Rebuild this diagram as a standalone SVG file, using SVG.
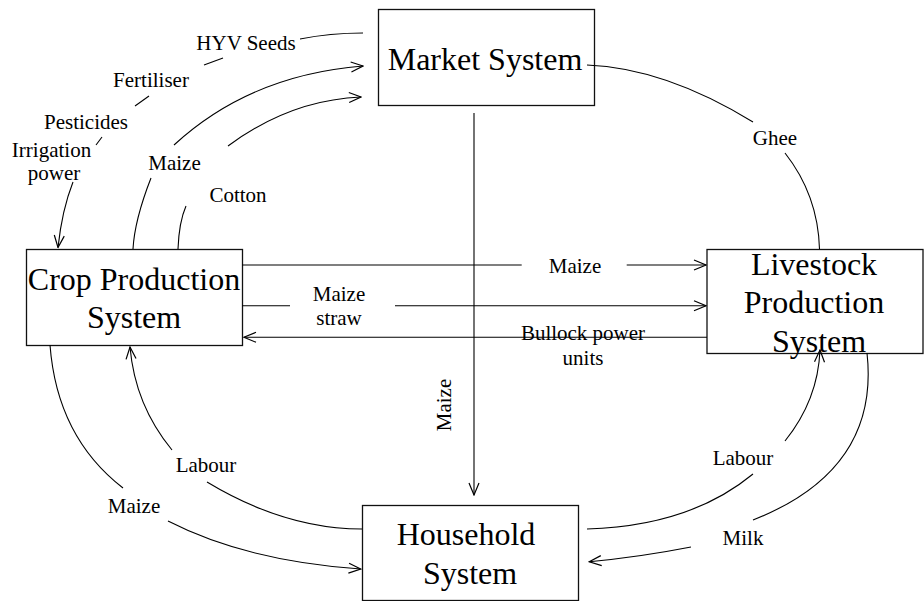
<svg xmlns="http://www.w3.org/2000/svg" width="924" height="601" viewBox="0 0 924 601">
<style>
.box{fill:#fff;stroke:#111;stroke-width:1.3}
.nt{font-family:"Liberation Serif","Times New Roman",serif;font-size:32px;fill:#000;text-anchor:middle}
.lt{font-family:"Liberation Serif","Times New Roman",serif;font-size:21px;fill:#000;text-anchor:middle}
.c{fill:none;stroke:#000;stroke-width:1.1}
.a{marker-end:url(#arr)}
</style>
<defs>
<marker id="arr" markerUnits="userSpaceOnUse" markerWidth="14" markerHeight="12" viewBox="-1 -1 14 12" refX="12" refY="5" orient="auto">
<path d="M0,0 L12,5 L0,10" fill="none" stroke="#000" stroke-width="1.2"/>
</marker>
</defs>
<rect width="924" height="601" fill="#fff"/>

<g id="market">
<rect class="box" x="378.5" y="9.5" width="216" height="96"/>
<text class="nt" x="485" y="70">Market System</text>
</g>
<g id="crop">
<rect class="box" x="26.5" y="249.5" width="216" height="96"/>
<text class="nt" x="134" y="290">Crop Production</text>
<text class="nt" x="134" y="328">System</text>
</g>
<g id="livestock">
<rect class="box" x="707" y="249.5" width="216" height="104"/>
</g>
<g id="household">
<rect class="box" x="362.5" y="505.5" width="216" height="95"/>
<text class="nt" x="466" y="545">Household</text>
<text class="nt" x="470" y="584">System</text>
</g>

<g id="connectors">
<!-- inputs from market to crop -->
<path class="c" d="M363,33 Q330,33 300,39"/>
<path class="c" d="M223,58 L204,65"/>
<path class="c" d="M149,96 L135,106"/>
<path class="c" d="M102,137 L96,145"/>
<path class="c a" d="M73,182 Q62,210 58,247.5"/>
<text class="lt" x="246" y="50">HYV Seeds</text>
<text class="lt" x="151" y="87">Fertiliser</text>
<text class="lt" x="86" y="129">Pesticides</text>
<text class="lt" x="51.5" y="157">Irrigation</text>
<text class="lt" x="54" y="180">power</text>
<!-- crop to market maize -->
<path class="c" d="M133,249 Q134.6,219.9 151,178"/>
<path class="c a" d="M174,145 Q250,75 363,66"/>
<text class="lt" x="174.5" y="170">Maize</text>
<!-- crop to market cotton -->
<path class="c" d="M178,249 Q179,222 186,206"/>
<path class="c a" d="M228,146 Q290,100 361,97"/>
<text class="lt" x="238" y="202">Cotton</text>
<!-- ghee -->
<path class="c" d="M587,65 Q665,68 753,122"/>
<path class="c" d="M785,153 Q818,195 819.5,249"/>
<text class="lt" x="775" y="145">Ghee</text>
<!-- crop to livestock maize -->
<path class="c" d="M242,265 L521.7,265"/>
<path class="c a" d="M626.7,265 L706,265"/>
<text class="lt" x="575" y="273">Maize</text>
<!-- maize straw -->
<path class="c" d="M242,305.7 L290,305.7"/>
<path class="c a" d="M395,305.7 L706,305.7"/>
<text class="lt" x="339" y="301">Maize</text>
<text class="lt" x="339" y="325">straw</text>
<!-- bullock power -->
<path class="c a" d="M707,337.3 L244,337.3"/>
<text class="lt" x="583" y="340">Bullock power</text>
<text class="lt" x="583" y="365">units</text>
<!-- market to household maize -->
<path class="c a" d="M474,113 L474,495"/>
<text class="lt" transform="translate(450.5,405) rotate(-90)" x="0" y="0">Maize</text>
<!-- crop to household maize -->
<path class="c" d="M50,345 Q57,437 123,488"/>
<path class="c a" d="M168,521 Q246,561 360.7,569"/>
<text class="lt" x="134" y="513">Maize</text>
<!-- household to crop labour -->
<path class="c" d="M362,529 Q285,529 207,482"/>
<path class="c a" d="M172,450 Q135,405 130,347"/>
<text class="lt" x="206" y="472">Labour</text>
<!-- household to livestock labour -->
<path class="c" d="M587,529 Q690,526 753,474"/>
<path class="c a" d="M785,441 Q818,400 820,350"/>
<text class="lt" x="743" y="465">Labour</text>
<!-- milk -->
<path class="c" d="M867,353 Q880,470 753,520"/>
<path class="c a" d="M691,547 Q640,557 589.3,561.7"/>
<text class="lt" x="743" y="545">Milk</text>
</g>
<g id="livestock-label">
<text class="nt" x="814" y="275">Livestock</text>
<text class="nt" x="814" y="313">Production</text>
<text class="nt" x="819" y="352">System</text>
</g>
</svg>
